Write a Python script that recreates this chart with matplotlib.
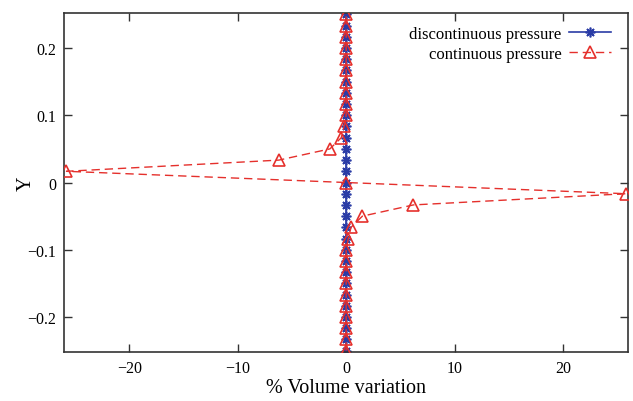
import numpy as np
import matplotlib
matplotlib.use("Agg")
import matplotlib.pyplot as plt

# Data
y_nodes = [k / 60 for k in range(-15, 16)]
x_disc = [0.0] * len(y_nodes)

# continuous pressure: volume variation at each node (antisymmetric around y=0)
x_cont = [0.0, 0.0, 0.0, 0.0, 0.0, 0.0, 0.0, 0.0, 0.0, 0.0,
          0.2, 0.45, 1.5, 6.2, 25.8,
          0.0,
          -25.8, -6.2, -1.5, -0.45, -0.2,
          0.0, 0.0, 0.0, 0.0, 0.0, 0.0, 0.0, 0.0, 0.0, 0.0]

xticks = [-20, -10, 0, 10, 20]
yticks = [-0.2, -0.1, 0.0, 0.1, 0.2]

plt.rcParams['font.family'] = ['Liberation Serif', 'DejaVu Serif']
plt.rcParams['axes.unicode_minus'] = True

fig = plt.figure(figsize=(6.33, 4.02), dpi=100)
ax = fig.add_axes([0.1016, 0.122, 0.8905, 0.843])

blue = '#2a3ca6'
red = '#e5302c'

ax.plot(x_disc, y_nodes, color=blue, lw=1.2, marker=(8, 2, 0), ms=7,
        mew=1.2, label='discontinuous pressure', zorder=2)
ax.plot(x_cont, y_nodes, color=red, lw=1.0, ls=(0, (6, 3.5)), marker='^',
        ms=8.5, mfc='none', mec=red, mew=1.2, label='continuous pressure', zorder=3)

ax.set_xlim(-26, 26)
ax.set_ylim(-0.252, 0.252)
ax.set_xticks(xticks)
ax.set_yticks(yticks)
ax.set_xticklabels(['\u221220', '\u221210', '0', '10', '20'])
ax.set_yticklabels(['\u22120.2', '\u22120.1', '0', '0.1', '0.2'])
ax.tick_params(direction='in', top=True, right=True, length=6, width=1.0,
               labelsize=11.5, pad=6, color='#333333')
for s in ax.spines.values():
    s.set_linewidth(1.2)
    s.set_color('#333333')

ax.set_xlabel('% Volume variation', fontsize=14.5, labelpad=1)
ax.set_ylabel('Y', fontsize=14.5)
ax.yaxis.set_label_coords(-0.051, 0.5)

leg = ax.legend(loc='upper right', bbox_to_anchor=(0.993, 1.0), frameon=False,
                markerfirst=False, fontsize=12, handlelength=2.5,
                handletextpad=0.48, borderaxespad=0.38, labelspacing=0.25)

fig.savefig('out.png', dpi=100)
